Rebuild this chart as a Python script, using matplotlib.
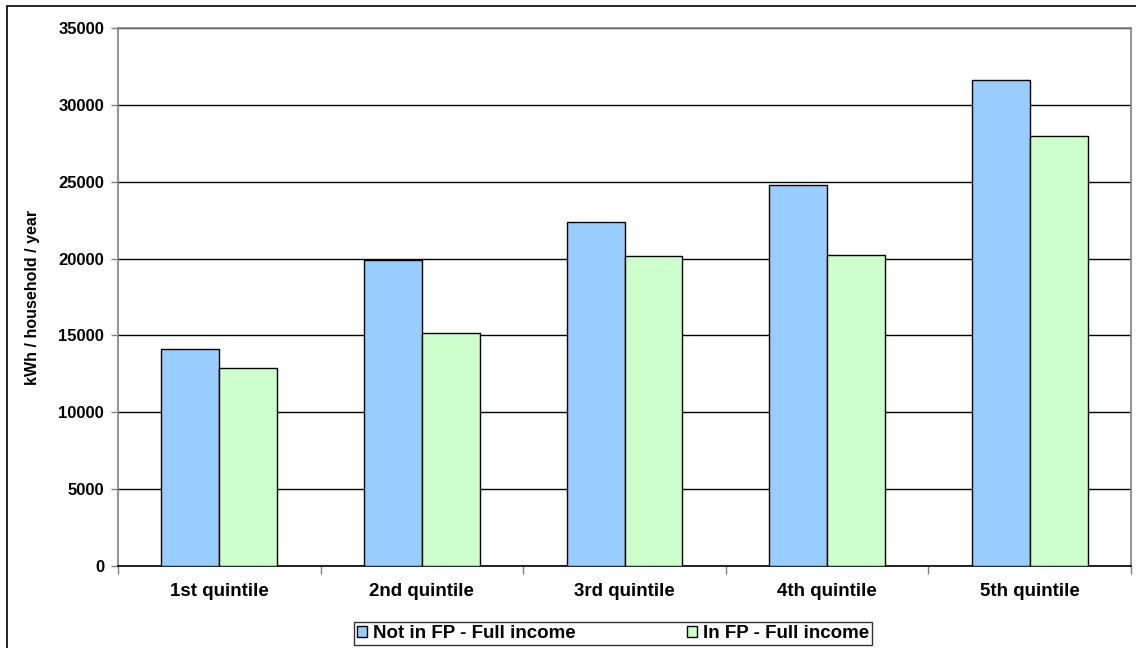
import numpy as np
import matplotlib.pyplot as plt
from matplotlib.patches import Rectangle

categories = ["1st quintile", "2nd quintile", "3rd quintile", "4th quintile", "5th quintile"]
not_in_fp = [14100, 19900, 22350, 24800, 31600]
in_fp = [12850, 15150, 20150, 20200, 27950]
series_names = ["Not in FP - Full income", "In FP - Full income"]

plt.rcParams['font.family'] = ['Liberation Sans', 'DejaVu Sans']
plt.rcParams['font.weight'] = 'bold'

fig = plt.figure(figsize=(11.36, 6.48), dpi=100)
ax = fig.add_axes([118/1136, 1 - 566/648, (1131 - 118)/1136, (566 - 28)/648])

# outer chart border (cropped at right/bottom in the original)
fig.patches.append(Rectangle((7/1136, -0.1), 1.2, 1 - 6/648 + 0.1, transform=fig.transFigure,
                             fill=False, edgecolor='black', linewidth=1.2))

x = np.arange(len(categories))
w = 0.286
ax.bar(x - w/2, not_in_fp, w, color='#99ccff', edgecolor='black', linewidth=1, label=series_names[0], zorder=3)
ax.bar(x + w/2, in_fp, w, color='#ccffcc', edgecolor='black', linewidth=1, label=series_names[1], zorder=3)

ax.set_xlim(-0.5, len(categories) - 0.5)
ax.set_ylim(0, 35000)
ax.set_yticks(np.arange(0, 35001, 5000))
ax.set_yticklabels([str(v) for v in range(0, 35001, 5000)], fontsize=12, fontweight='bold')
ax.yaxis.grid(True, color='black', linewidth=1)
ax.set_axisbelow(True)

ax.set_xticks(x)
ax.set_xticklabels(categories, fontsize=13.5, fontweight='bold')
ax.set_xticks(np.arange(-0.5, len(categories)), minor=True)
ax.tick_params(axis='x', which='major', length=0, pad=12)
ax.tick_params(axis='x', which='minor', length=6, color='#808080', width=1)
ax.tick_params(axis='y', length=5, color='#808080', width=1, pad=5)

for s in ax.spines.values():
    s.set_color('#808080')
    s.set_linewidth(1.2)
ax.spines['bottom'].set_color('black')

ax.set_ylabel("kWh / household / year", fontsize=11.5, fontweight='bold')
ax.yaxis.set_label_coords(-(118 - 40)/1013, 0.5)

# legend box spans x 354..872, y 621..646 in the reference
leg = fig.legend(loc='center', bbox_to_anchor=(354/1136, 1 - 646/648, 518/1136, 25/648), mode='expand',
                 ncol=2, frameon=True, fancybox=False, edgecolor='black', fontsize=13.5,
                 handlelength=0.55, handleheight=0.55, columnspacing=3.4, handletextpad=0.3,
                 borderpad=0.15, borderaxespad=0)
leg.get_frame().set_linewidth(1)
for t in leg.get_texts():
    t.set_fontweight('bold')

fig.savefig("out.png", dpi=100)
